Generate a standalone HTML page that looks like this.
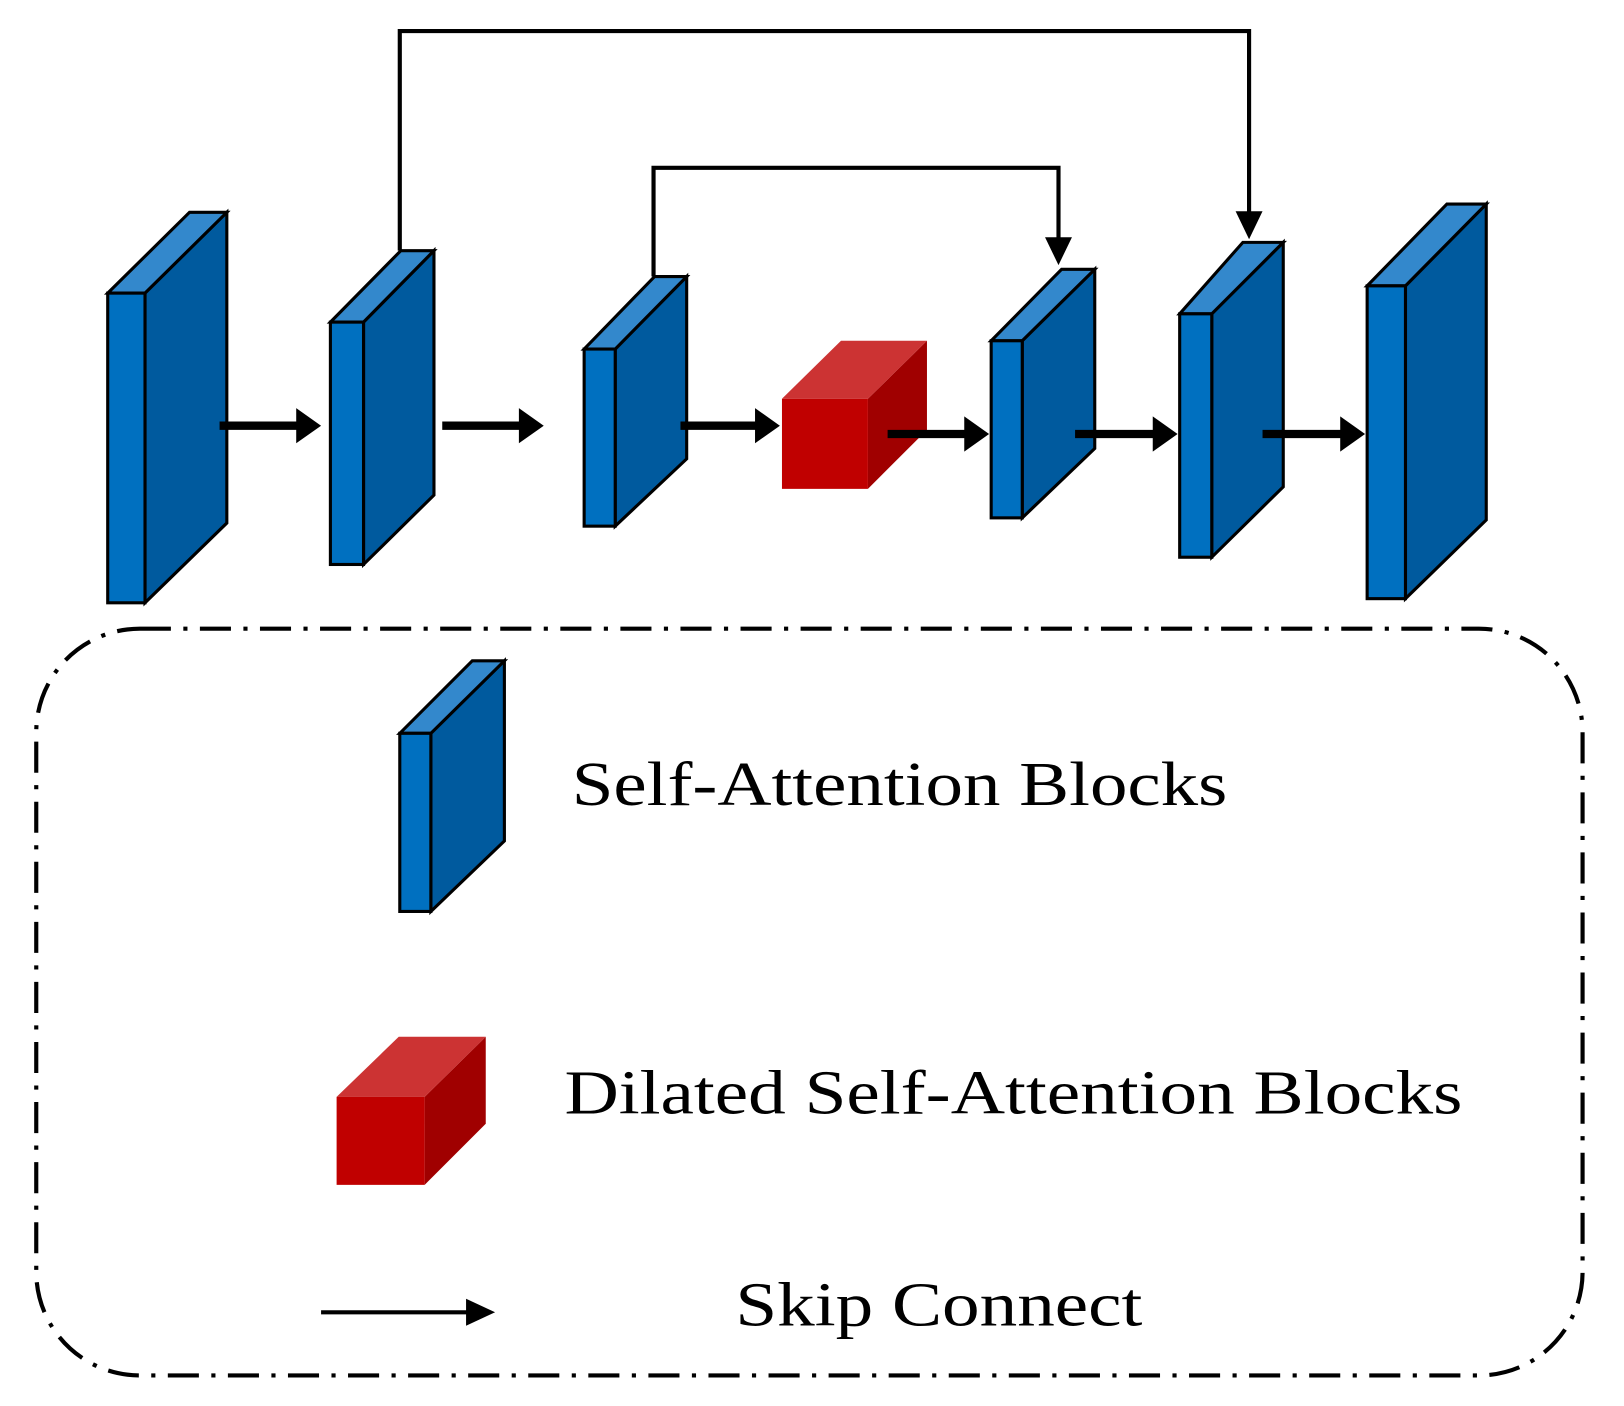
<!DOCTYPE html>
<html><head><style>html,body{margin:0;padding:0;background:#fff}svg{display:block}</style></head>
<body>
<svg width="1624" height="1406" viewBox="0 0 1568 1357.5" xmlns="http://www.w3.org/2000/svg">
<g stroke="#000" stroke-width="3" stroke-linejoin="miter">
<polygon points="140,283 219,205 219,505 140,582" fill="#005a9e"/>
<polygon points="104,283 183,205 219,205 140,283" fill="#3388cc"/>
<rect x="104" y="283" width="36" height="299" fill="#0070c0"/>
<polygon points="351,311 419,242 419,478 351,545" fill="#005a9e"/>
<polygon points="319,311 387,242 419,242 351,311" fill="#3388cc"/>
<rect x="319" y="311" width="32" height="234" fill="#0070c0"/>
<polygon points="594,337 663,267 663,443 594,508" fill="#005a9e"/>
<polygon points="564,337 632,267 663,267 594,337" fill="#3388cc"/>
<rect x="564" y="337" width="30" height="171" fill="#0070c0"/>
<polygon points="987,329 1057,260 1057,433 987,500" fill="#005a9e"/>
<polygon points="957,329 1025,260 1057,260 987,329" fill="#3388cc"/>
<rect x="957" y="329" width="30" height="171" fill="#0070c0"/>
<polygon points="1170,303 1239,234 1239,470 1170,538" fill="#005a9e"/>
<polygon points="1139,303 1200,234 1239,234 1170,303" fill="#3388cc"/>
<rect x="1139" y="303" width="31" height="235" fill="#0070c0"/>
<polygon points="1357,276 1435,197 1435,502 1357,578" fill="#005a9e"/>
<polygon points="1320,276 1397,197 1435,197 1357,276" fill="#3388cc"/>
<rect x="1320" y="276" width="37" height="302" fill="#0070c0"/>
<polygon points="416,708 487,638 487,812 416,880" fill="#005a9e"/>
<polygon points="386,708 456,638 487,638 416,708" fill="#3388cc"/>
<rect x="386" y="708" width="30" height="172" fill="#0070c0"/>
</g>
<polygon points="838,385 895,329 895,415 838,472" fill="#a00000"/>
<polygon points="755,385 812,329 895,329 838,385" fill="#cc3333"/>
<rect x="755" y="385" width="83" height="87" fill="#c00000"/>
<polygon points="410,1059 469,1001 469,1085 410,1144" fill="#a00000"/>
<polygon points="325,1059 385,1001 469,1001 410,1059" fill="#cc3333"/>
<rect x="325" y="1059" width="85" height="85" fill="#c00000"/>
<g fill="#000">
<path d="M212,407h74v-13l24,17l-24,17v-13h-74z"/>
<path d="M427,407h74v-13l24,17l-24,17v-13h-74z"/>
<path d="M657,407h72v-13l24,17l-24,17v-13h-72z"/>
<path d="M857,415h74v-13l24,17l-24,17v-13h-74z"/>
<path d="M1038,415h75v-13l24,17l-24,17v-13h-75z"/>
<path d="M1219,415h75v-13l24,17l-24,17v-13h-75z"/>
</g>
<g fill="none" stroke="#000" stroke-width="4">
<polyline points="386,242 386,30 1206,30 1206,208"/>
<polyline points="631,267 631,162 1022,162 1022,233"/>
<line x1="310" y1="1267" x2="455" y2="1267"/>
</g>
<g fill="#000">
<path d="M1193,204h26l-13,27z"/>
<path d="M1009,229h26l-13,27z"/>
<path d="M450,1254l28,13l-28,13z"/>
</g>
<rect x="35" y="607" width="1493" height="721" rx="100" ry="100" fill="none" stroke="#000" stroke-width="4" stroke-dasharray="30,12,4,12"/>
<g font-family="Liberation Serif, serif" font-size="60" fill="#000">
<text x="552" y="777" textLength="633" lengthAdjust="spacingAndGlyphs">Self-Attention Blocks</text>
<text x="545" y="1075" textLength="867" lengthAdjust="spacingAndGlyphs">Dilated Self-Attention Blocks</text>
<text x="710" y="1280" textLength="393" lengthAdjust="spacingAndGlyphs">Skip Connect</text>
</g>
</svg>
</body></html>
